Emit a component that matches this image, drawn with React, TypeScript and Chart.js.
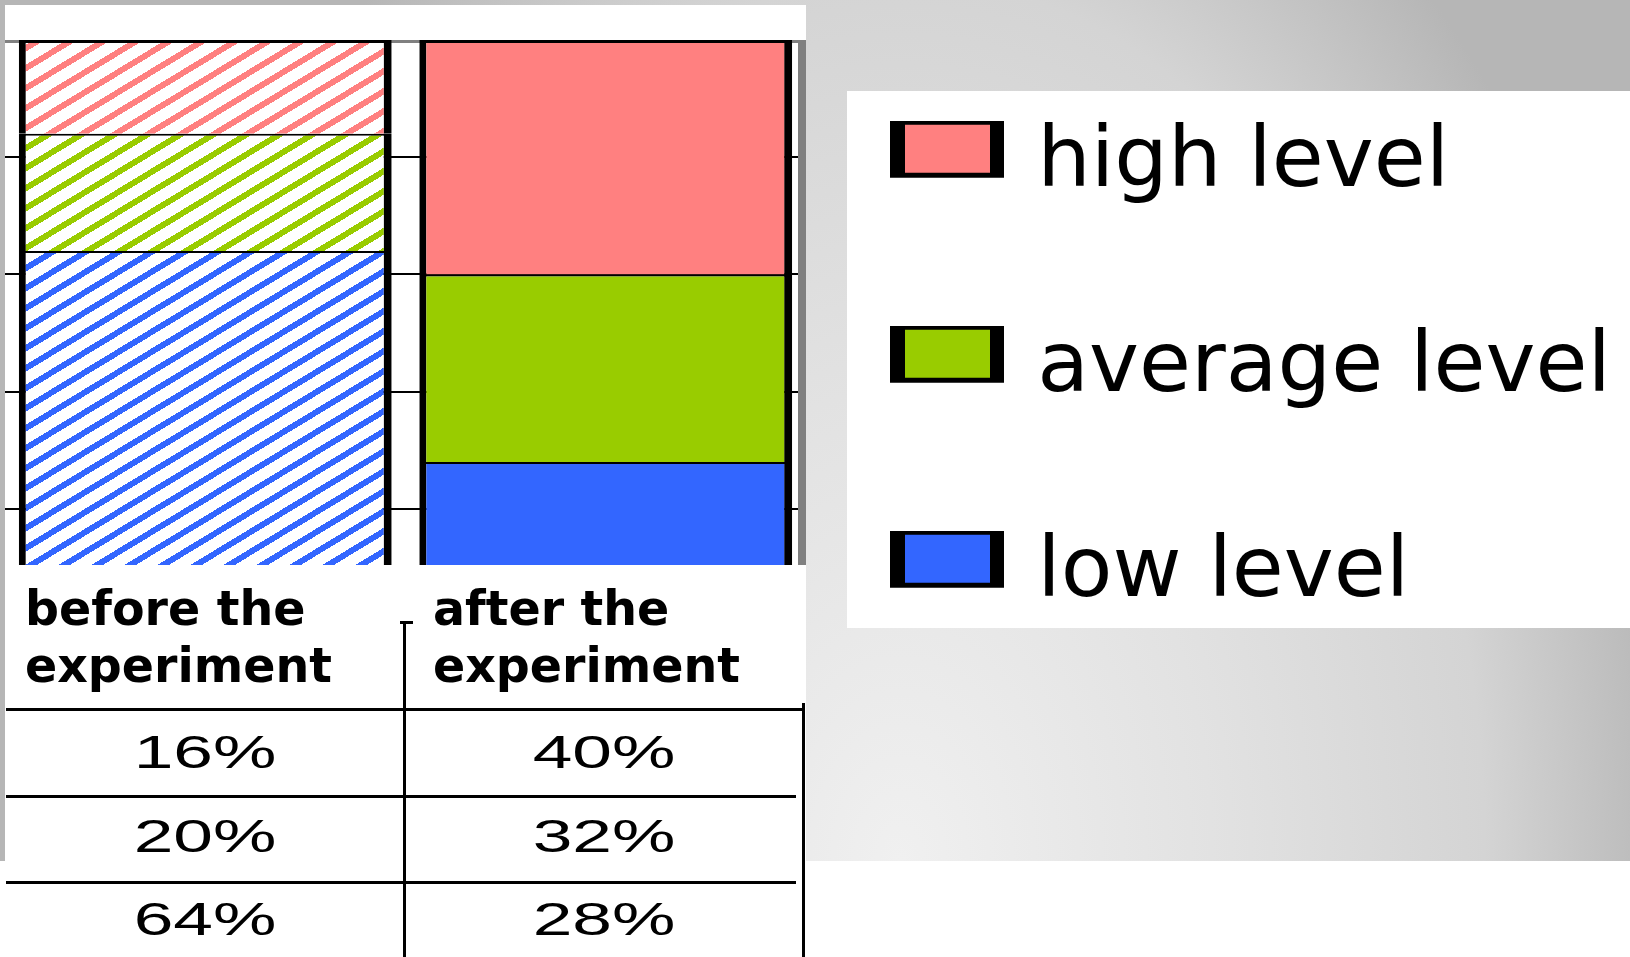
import React, { useEffect, useRef } from "react";
import { Chart, registerables } from "chart.js";

Chart.register(...registerables);

// ---- data ----
const categories = ["before the experiment", "after the experiment"];
const levelNames = ["high level", "average level", "low level"];
const highValues = [16, 40];
const averageValues = [20, 32];
const lowValues = [64, 28];
const gridValues = [20, 40, 60, 80];
const axisMin = 10.4;
const axisMax = 100;

// ---- styles ----
const levelColors = ["#FF8080", "#99CC00", "#3366FF"]; // high, average, low

const PAGE_W = 1630;
const PAGE_H = 957;
const PLOT_RIGHT = 806;
const LEGEND_FONT = 84.5;
const LEGEND_PAD = 93;
const SWATCH_W = 96;

function makeHatch(ctx: CanvasRenderingContext2D, color: string) {
  const w = 33;
  const h = 20;
  const c = document.createElement("canvas");
  c.width = w;
  c.height = h;
  const g = c.getContext("2d")!;
  g.fillStyle = "#ffffff";
  g.fillRect(0, 0, w, h);
  g.fillStyle = color;
  for (let x = 0; x < w; x++) {
    for (let y = 0; y < h; y++) {
      const p = (y + Math.round((x * h) / w)) % h;
      if (p < 7) g.fillRect(x, y, 1, 1);
    }
  }
  return ctx.createPattern(c, "repeat")!;
}

function makeSwatch(color: string) {
  const c = document.createElement("canvas");
  c.width = 114;
  c.height = 87;
  const g = c.getContext("2d")!;
  g.fillStyle = "#000";
  g.fillRect(0, 0, 114, 57);
  g.fillStyle = color;
  g.fillRect(15, 4, 85, 48);
  return c;
}

const framePlugin = {
  id: "plotFrame",
  beforeDatasetsDraw(chart: any) {
    const { ctx, chartArea: a } = chart;
    ctx.save();
    ctx.fillStyle = "#808080";
    ctx.fillRect(a.left, a.top, a.right - a.left, 3);
    ctx.fillRect(a.right - 8, a.top, 8, a.bottom - a.top);
    ctx.restore();
  },
};

export default function App() {
  const canvasRef = useRef<HTMLCanvasElement>(null);

  useEffect(() => {
    const canvas = canvasRef.current!;
    const ctx = canvas.getContext("2d")!;
    const hatches = levelColors.map((c) => makeHatch(ctx, c));
    const swatches = levelColors.map((c) => makeSwatch(c));

    // legend width so that the legend box starts exactly at the plot's right edge
    ctx.save();
    ctx.font = `normal ${LEGEND_FONT}px 'DejaVu Sans'`;
    const textW = Math.max(...levelNames.map((n) => ctx.measureText(n).width));
    ctx.restore();
    const legendW = Math.min(LEGEND_PAD + SWATCH_W + LEGEND_FONT / 2 + textW + 10, PAGE_W - PLOT_RIGHT);
    const padRight = Math.max(0, PAGE_W - PLOT_RIGHT - legendW);

    // stacking order: low at bottom, then average, then high
    const series = [
      { label: levelNames[2], data: lowValues, idx: 2 },
      { label: levelNames[1], data: averageValues, idx: 1 },
      { label: levelNames[0], data: highValues, idx: 0 },
    ];

    const chart = new Chart(canvas, {
      type: "bar",
      data: {
        labels: categories,
        datasets: series.map((s) => ({
          label: s.label,
          data: s.data,
          backgroundColor: (c: any) => (c.dataIndex === 0 ? hatches[s.idx] : levelColors[s.idx]),
          borderColor: "#000",
          borderWidth: { top: s.idx === 0 ? 3 : 2, left: 7, right: 8, bottom: 0 },
          borderSkipped: false,
          barPercentage: 0.931,
          categoryPercentage: 1,
          clip: 0,
        })) as any,
      },
      options: {
        responsive: false,
        maintainAspectRatio: false,
        animation: false,
        events: [],
        layout: { padding: { left: 5, top: 29, right: padRight, bottom: 0 } },
        scales: {
          x: {
            stacked: true,
            position: "bottom",
            grid: { display: false },
            border: { display: false },
            ticks: { display: false },
            afterFit: (s: any) => {
              s.height = 392;
            },
          },
          xTop: {
            type: "category",
            labels: categories,
            position: "top",
            grid: { display: false },
            border: { display: false },
            ticks: { display: false },
            afterFit: (s: any) => {
              s.height = 11;
            },
          },
          y: {
            stacked: true,
            min: axisMin,
            max: axisMax,
            grid: { color: "#000", lineWidth: 2, drawTicks: false },
            border: { display: false },
            ticks: { display: false },
            afterBuildTicks: (s: any) => {
              s.ticks = gridValues.map((v) => ({ value: v }));
            },
            afterFit: (s: any) => {
              s.width = 0;
            },
          },
        } as any,
        plugins: {
          tooltip: { enabled: false },
          legend: {
            display: true,
            position: "right",
            align: "start",
            maxWidth: PAGE_W - PLOT_RIGHT,
            labels: {
              usePointStyle: true,
              pointStyleWidth: SWATCH_W,
              padding: LEGEND_PAD,
              color: "#000",
              font: { family: "'DejaVu Sans'", size: LEGEND_FONT, lineHeight: "112px" },
              generateLabels: (ch: any) =>
                ch.data.datasets
                  .map((ds: any, i: number) => ({
                    text: [ds.label],
                    fillStyle: levelColors[series[i].idx],
                    strokeStyle: "#000",
                    lineWidth: 0,
                    pointStyle: swatches[series[i].idx],
                    fontColor: "#000",
                    hidden: false,
                    datasetIndex: i,
                  }))
                  .reverse(),
            },
          } as any,
        },
      },
      plugins: [framePlugin],
    } as any);

    return () => chart.destroy();
  }, []);

  const tableRows = [
    { name: levelNames[0], values: highValues },
    { name: levelNames[1], values: averageValues },
    { name: levelNames[2], values: lowValues },
  ];
  const colCenters = [205, 604];
  const headerLefts = [25, 433];
  const rowTops = [729, 813, 896];

  const line = (left: number, top: number, width: number, height: number, key: string) => (
    <div key={key} style={{ position: "absolute", left, top, width, height, background: "#000" }} />
  );

  return (
    <div
      style={{
        position: "fixed",
        left: 0,
        top: 0,
        width: PAGE_W,
        height: PAGE_H,
        overflow: "hidden",
        background: "#fff",
      }}
    >
      <div
        style={{
          position: "absolute",
          left: 0,
          top: 0,
          width: PAGE_W,
          height: 861,
          background:
            "radial-gradient(ellipse 780px 1180px at 900px 861px, #f0f0f0 0%, #e2e2e2 40%, #d4d4d4 75%, #b6b6b6 100%)",
        }}
      />
      <div style={{ position: "absolute", left: 5, top: 5, width: 801, height: PAGE_H - 5, background: "#fff" }} />
      <div style={{ position: "absolute", left: 847, top: 91, width: PAGE_W - 847, height: 537, background: "#fff" }} />
      <canvas
        ref={canvasRef}
        width={PAGE_W}
        height={PAGE_H}
        style={{ position: "absolute", left: 0, top: 0, width: PAGE_W, height: PAGE_H }}
      />
      {categories.map((c, i) => (
        <div
          key={"h" + i}
          style={{
            position: "absolute",
            left: headerLefts[i],
            top: 580,
            width: 370,
            font: "bold 47.5px 'DejaVu Sans'",
            lineHeight: "57px",
            color: "#000",
          }}
        >
          {c}
        </div>
      ))}
      {tableRows.map((r, ri) =>
        r.values.map((v, ci) => (
          <div
            key={"v" + ri + "-" + ci}
            style={{
              position: "absolute",
              left: colCenters[ci] - 150,
              width: 300,
              top: rowTops[ri],
              textAlign: "center",
              font: "46px 'Liberation Sans'",
              lineHeight: "46px",
              color: "#000",
            }}
          >
            <span style={{ display: "inline-block", transform: "scaleX(1.55)" }}>{v + "%"}</span>
          </div>
        ))
      )}
      {line(6, 708, 798, 2.5, "l1")}
      {line(6, 795, 790, 2.5, "l2")}
      {line(6, 881, 790, 2.5, "l3")}
      {line(403, 622, 2.5, PAGE_H - 622, "v1")}
      {line(400, 621, 13, 2.5, "v1t")}
      {line(802, 703, 2.5, PAGE_H - 703, "v2")}
    </div>
  );
}
